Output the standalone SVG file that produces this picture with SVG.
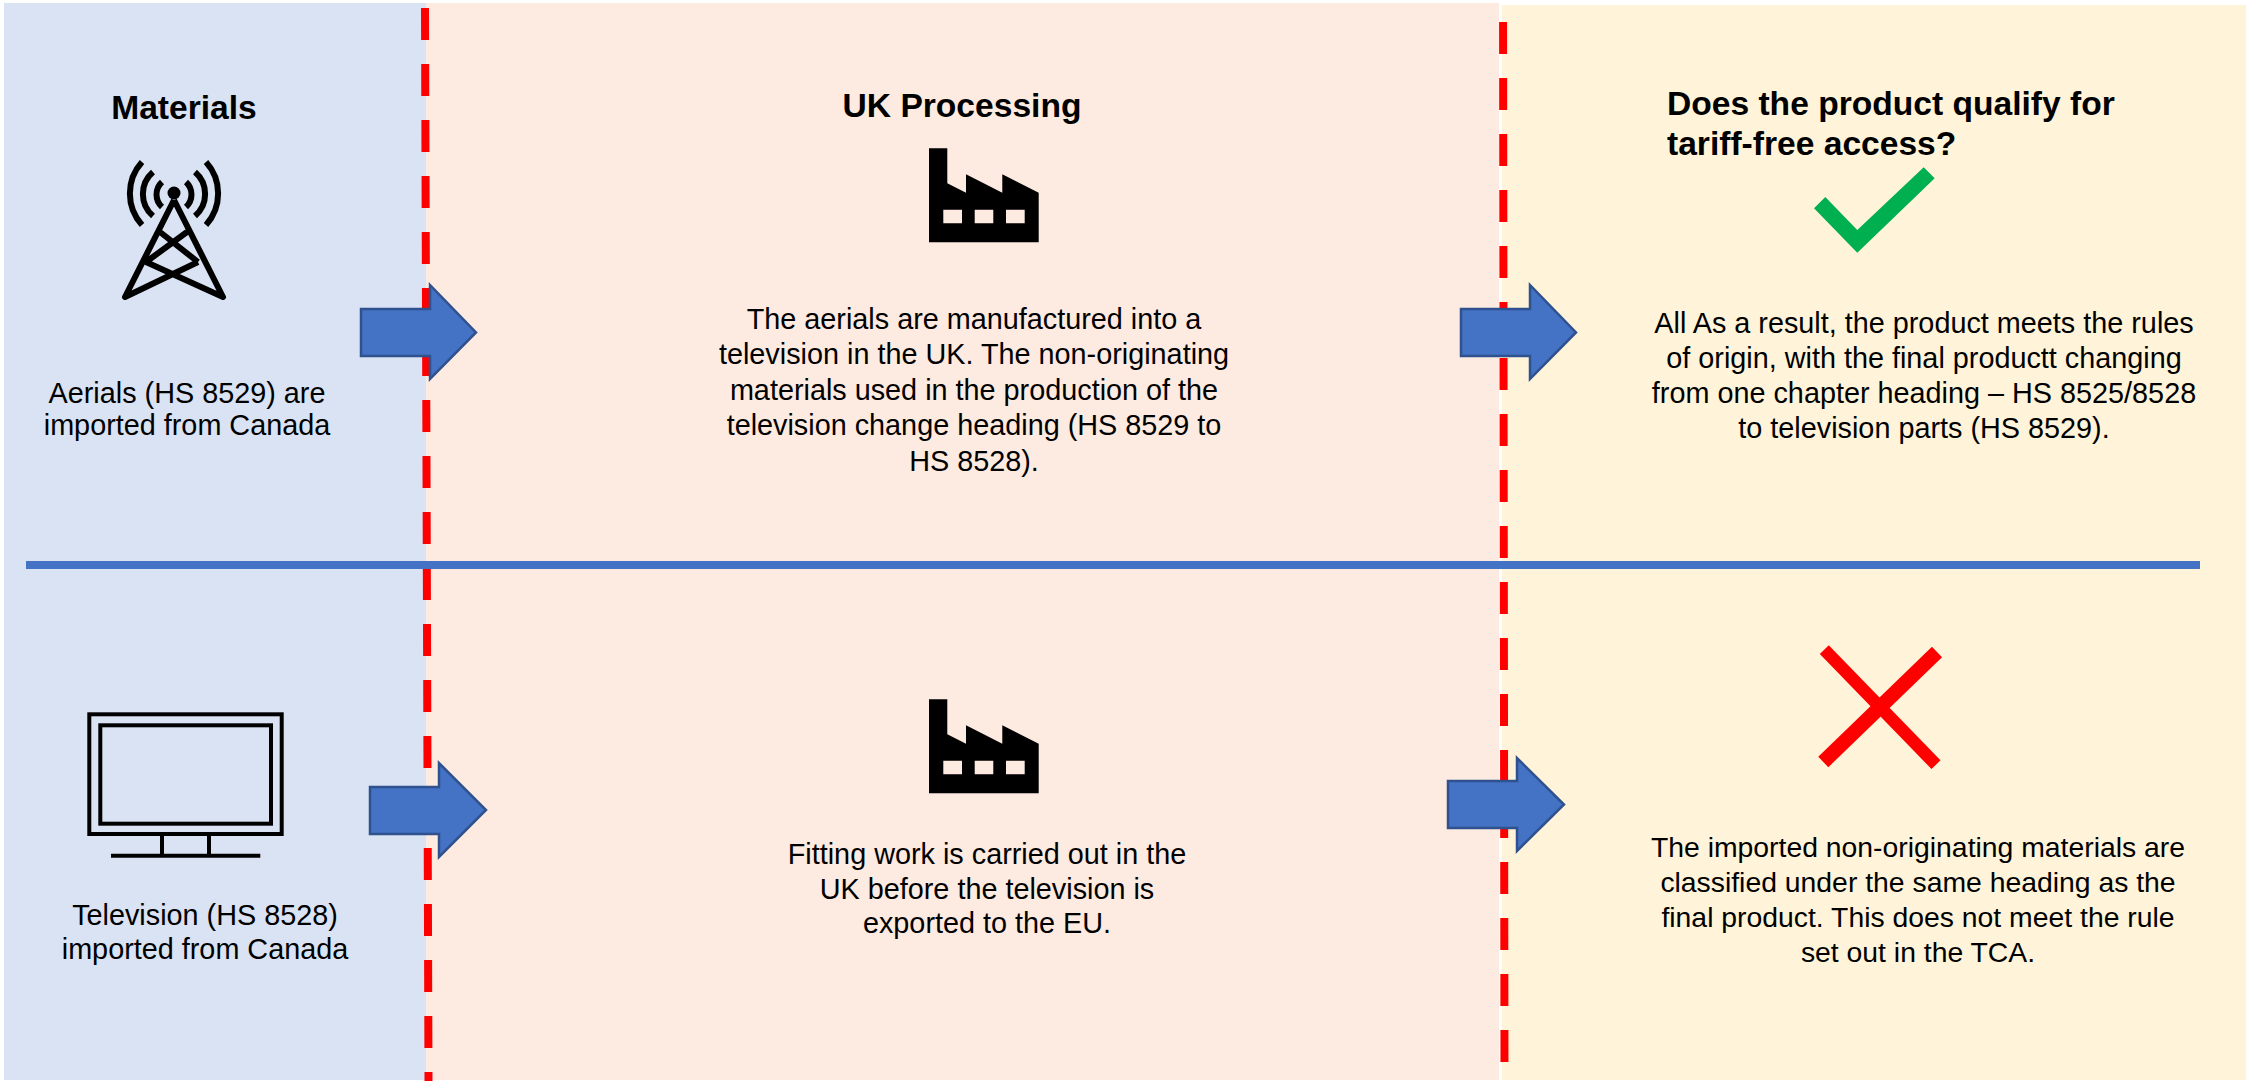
<svg xmlns="http://www.w3.org/2000/svg" width="2252" height="1081" viewBox="0 0 2252 1081">
<style>
text{font-family:"Liberation Sans",Arial,sans-serif;font-size:28.8px;fill:#000}
.c{text-anchor:middle}
.h{font-weight:700;font-size:33.6px}
.s{font-size:28.35px}
.arrow{fill:#4472C4;stroke:#2F528F;stroke-width:2.5}
.dash{fill:none;stroke:#FF0000;stroke-width:8;stroke-dasharray:32 24}
.ic{fill:none;stroke:#000;stroke-width:6}
</style>
<defs>
<path id="factory" fill-rule="evenodd" fill="#000" d="M929 148.3H947.3V183.3L966 192.7V174.3L1002.3 192.7V174.3L1038.7 192.7V242.3H929ZM943.3 209.7V223.3H962V209.7ZM974.7 209.7V223.3H993.3V209.7ZM1006 209.7V223.3H1024.7V209.7Z"/>
</defs>
<rect width="2252" height="1081" fill="#fff"/>
<g id="panels">
<rect x="4" y="3" width="422" height="1077" fill="#DAE3F3"/>
<rect x="426" y="3" width="1073" height="1077" fill="#FDEAE0"/>
<rect x="1502" y="5" width="744" height="1075" fill="#FFF4D9"/>
</g>
<g id="connectors">
<path class="dash" d="M425 8L428.500 1081"/>
<path class="dash" d="M1503 -34L1504.500 1081"/>
<path d="M26 565H2200" stroke="#4472C4" stroke-width="8" fill="none"/>
<path class="arrow" d="M361 309H430V285L476 332.500L430 379V356H361Z"/>
<path class="arrow" d="M1461 309H1530V285L1576 332.500L1530 379V356H1461Z"/>
<path class="arrow" d="M370 787H439V763L486 810L439 857V834H370Z"/>
<path class="arrow" d="M1448 781H1517V758L1564 804.500L1517 851V828H1448Z"/>
</g>
<g id="materials">
<text class="h c" x="184" y="118.500">Materials</text>
<g class="ic">
<circle cx="174" cy="193" r="6.500" fill="#000" stroke="none"/>
<path stroke-linejoin="round" d="M174 200L125 297L198 262M174 200L223 297L146 262M160 232L198 262M187 232L146 262"/>
<path d="M142 162A47 47 0 0 0 142 225M153 172A29 29 0 0 0 153 216M162 182A17 17 0 0 0 162 207M206 162A47 47 0 0 1 206 225M195 172A29 29 0 0 1 195 216M186 182A17 17 0 0 1 186 207"/>
</g>
<text class="c" x="187" y="403">Aerials (HS 8529) are</text>
<text class="c" x="187" y="435">imported from Canada</text>
</g>
<g id="television">
<g fill="none" stroke="#000" stroke-width="4">
<rect x="89.300" y="714.300" width="192.400" height="119.700"/>
<rect x="100.300" y="725.300" width="170.700" height="98.400"/>
<path d="M162 834V856M209 834V856M111 855.700H260.300"/>
</g>
<text class="c" x="205" y="925">Television (HS 8528)</text>
<text class="c" x="205" y="959">imported from Canada</text>
</g>
<g id="uk-processing">
<text class="h c" x="962" y="116.500">UK Processing</text>
<use href="#factory"/>
<text class="c" x="974" y="329">The aerials are manufactured into a</text>
<text class="c" x="974" y="364">television in the UK. The non-originating</text>
<text class="c" x="974" y="400">materials used in the production of the</text>
<text class="c" x="974" y="435">television change heading (HS 8529 to</text>
<text class="c" x="974" y="471">HS 8528).</text>
</g>
<g id="fitting">
<use href="#factory" y="551"/>
<text class="c" x="987" y="864">Fitting work is carried out in the</text>
<text class="c" x="987" y="899">UK before the television is</text>
<text class="c" x="987" y="933">exported to the EU.</text>
</g>
<g id="qualify">
<text class="h" x="1667" y="115">Does the product qualify for</text>
<text class="h" x="1667" y="155">tariff-free access?</text>
<path d="M1814 208.300L1825.300 197L1857.300 230L1923.700 167.300L1934.700 178.300L1857.300 252.700Z" fill="#00B050"/>
</g>
<g id="yes-text">
<text class="c" x="1924" y="333">All As a result, the product meets the rules</text>
<text class="c" x="1924" y="368">of origin, with the final productt changing</text>
<text class="c" x="1924" y="403">from one chapter heading – HS 8525/8528</text>
<text class="c" x="1924" y="438">to television parts (HS 8529).</text>
</g>
<g id="no">
<path d="M1824.300 649.700L1936 764.700" stroke="#FF0000" stroke-width="12.500" fill="none"/>
<path d="M1937 652L1823.300 762" stroke="#FF0000" stroke-width="14.500" fill="none"/>
<text class="c s" x="1918" y="857">The imported non-originating materials are</text>
<text class="c s" x="1918" y="892">classified under the same heading as the</text>
<text class="c s" x="1918" y="927">final product. This does not meet the rule</text>
<text class="c s" x="1918" y="962">set out in the TCA.</text>
</g>
</svg>
